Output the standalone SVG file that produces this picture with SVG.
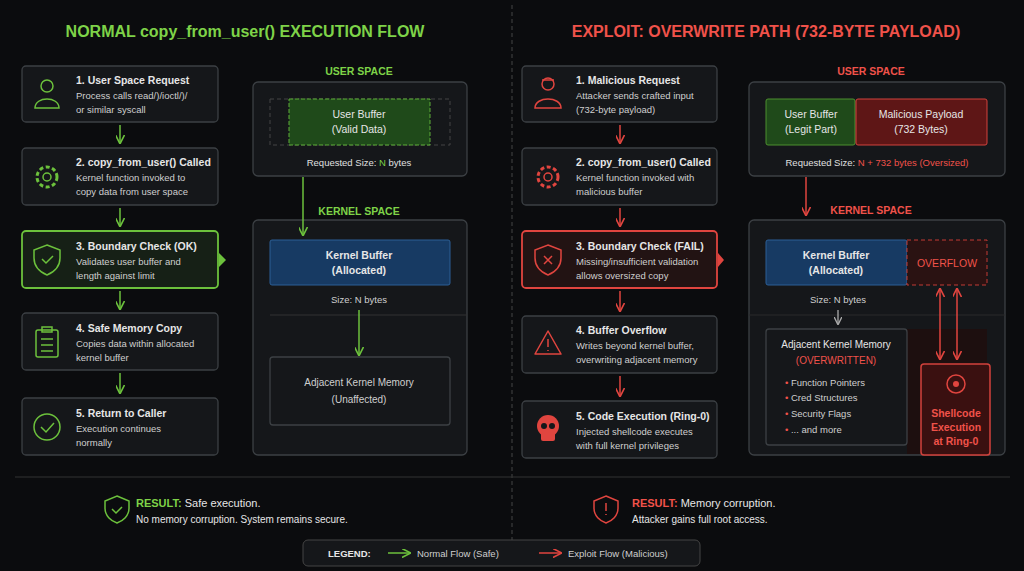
<svg xmlns="http://www.w3.org/2000/svg" width="1024" height="571" viewBox="0 0 1024 571">
<defs>
<style>
text{font-family:"Liberation Sans",Arial,sans-serif;fill:#e6e6e6}
.t{font-size:16px;font-weight:bold}
.h{font-size:10.5px;font-weight:bold}
.b{font-size:9.5px;fill:#cfcfcf}
.c{text-anchor:middle}
.box{fill:#15171a;stroke:#3c4044;stroke-width:1.3}
.g{fill:#7ed348}.r{fill:#f0524a}
.gl{stroke:#6cc13c;stroke-width:1.5;fill:none}
.rl{stroke:#e0453f;stroke-width:1.5;fill:none}
</style>
<marker id="ag" viewBox="0 0 10 10" refX="9" refY="5" markerWidth="6" markerHeight="6" orient="auto-start-reverse"><path d="M0,0L10,5L0,10" fill="none" stroke="#6cc13c" stroke-width="1.8"/></marker>
<marker id="ar" viewBox="0 0 10 10" refX="9" refY="5" markerWidth="6" markerHeight="6" orient="auto-start-reverse"><path d="M0,0L10,5L0,10" fill="none" stroke="#e0453f" stroke-width="1.8"/></marker>
<marker id="aw" viewBox="0 0 10 10" refX="9" refY="5" markerWidth="6" markerHeight="6" orient="auto"><path d="M0,0L10,5L0,10" fill="none" stroke="#aaa" stroke-width="1.8"/></marker>
</defs>
<rect width="1024" height="571" fill="#0b0c0e"/>
<line x1="512" y1="5" x2="512" y2="540" stroke="#444" stroke-dasharray="4 3"/>
<line x1="15" y1="477" x2="1010" y2="477" stroke="#333"/>
<text class="t c g" x="245" y="37" style="fill:#7ed348">NORMAL copy_from_user() EXECUTION FLOW</text>
<text class="t c" x="766" y="37" style="fill:#f0524a">EXPLOIT: OVERWRITE PATH (732-BYTE PAYLOAD)</text>

<g id="l1"><rect class="box" x="22" y="66" width="196" height="56" rx="4"/><circle cx="47" cy="86" r="6" class="gl"/><path d="M35,108c0-12 24-12 24,0z" class="gl"/><text class="h" x="76" y="84">1. User Space Request</text><text class="b" x="76" y="99">Process calls read/)/ioctl/)/</text><text class="b" x="76" y="113">or similar syscall</text></g>
<g id="l2"><rect class="box" x="22" y="148" width="196" height="57" rx="4"/><circle cx="47" cy="177" r="10" stroke-dasharray="4 2.5" style="stroke:#6cc13c;stroke-width:3;fill:none"/><circle cx="47" cy="177" r="4" class="gl"/><text class="h" x="76" y="166">2. copy_from_user() Called</text><text class="b" x="76" y="181">Kernel function invoked to</text><text class="b" x="76" y="195">copy data from user space</text></g>
<g id="l3"><rect x="22" y="231" width="196" height="57" rx="4" fill="#162016" stroke="#6cc13c" stroke-width="1.8"/><path d="M219,253l7,7l-7,7z" fill="#6cc13c"/><path d="M47,245l13,5v8c0,9-6,14-13,17c-7-3-13-8-13-17v-8z" class="gl"/><path d="M42,259l4,4l7-7" class="gl"/><text class="h" x="76" y="250">3. Boundary Check (OK)</text><text class="b" x="76" y="265">Validates user buffer and</text><text class="b" x="76" y="279">length against limit</text></g>
<g id="l4"><rect class="box" x="22" y="313" width="196" height="57" rx="4"/><rect x="36" y="330" width="22" height="27" rx="2" class="gl"/><rect x="42" y="327" width="10" height="5" class="gl"/><path d="M41,339h12M41,345h12M41,351h12" class="gl"/><text class="h" x="76" y="332">4. Safe Memory Copy</text><text class="b" x="76" y="347">Copies data within allocated</text><text class="b" x="76" y="361">kernel buffer</text></g>
<g id="l5"><rect class="box" x="22" y="398" width="196" height="57" rx="4"/><circle cx="47" cy="427" r="13" class="gl"/><path d="M41,427l5,5l8-9" class="gl"/><text class="h" x="76" y="417">5. Return to Caller</text><text class="b" x="76" y="432">Execution continues</text><text class="b" x="76" y="446">normally</text></g>

<g id="lus"><text class="h c" x="359" y="75" style="fill:#7ed348">USER SPACE</text><rect class="box" x="253" y="82" width="214" height="94" rx="5"/><rect x="270" y="99" width="180" height="46" fill="none" stroke="#444" stroke-dasharray="4 3"/><rect x="289" y="99" width="141" height="46" fill="#1f4a1a" stroke="#5fae38" stroke-dasharray="4 2"/><text class="h c" x="359" y="118" style="font-weight:normal">User Buffer</text><text class="h c" x="359" y="133" style="font-weight:normal">(Valid Data)</text><text class="b c" x="359" y="166" style="fill:#e0e0e0">Requested Size: <tspan style="fill:#7ed348">N</tspan> bytes</text></g>
<g id="lks"><text class="h c" x="359" y="215" style="fill:#7ed348">KERNEL SPACE</text><rect class="box" x="253" y="220" width="214" height="235" rx="5"/><rect x="270" y="240" width="180" height="45" rx="2" fill="#173a63" stroke="#2c5f96"/><text class="h c" x="359" y="259">Kernel Buffer</text><text class="h c" x="359" y="274">(Allocated)</text><text class="b c" x="359" y="303">Size: N bytes</text><line x1="270" y1="315" x2="467" y2="315" stroke="#333"/><rect class="box" x="270" y="357" width="180" height="68" rx="3"/><text class="b c" x="359" y="386" style="font-size:10px">Adjacent Kernel Memory</text><text class="b c" x="359" y="403" style="font-size:10px">(Unaffected)</text></g>

<g id="r1"><rect class="box" x="522" y="66" width="195" height="56" rx="4"/><circle cx="548" cy="84" r="6" class="rl"/><path d="M542,80h12" class="rl"/><path d="M535,108c0-12 26-12 26,0z" class="rl"/><text class="h" x="576" y="84">1. Malicious Request</text><text class="b" x="576" y="99">Attacker sends crafted input</text><text class="b" x="576" y="113">(732-byte payload)</text></g>
<g id="r2"><rect class="box" x="522" y="148" width="195" height="57" rx="4"/><circle cx="548" cy="177" r="10" stroke-dasharray="4 2.5" style="stroke:#e0453f;stroke-width:3;fill:none"/><circle cx="548" cy="177" r="4" class="rl"/><text class="h" x="576" y="166">2. copy_from_user() Called</text><text class="b" x="576" y="181">Kernel function invoked with</text><text class="b" x="576" y="195">malicious buffer</text></g>
<g id="r3"><rect x="522" y="231" width="195" height="57" rx="4" fill="#221313" stroke="#e0453f" stroke-width="1.8"/><path d="M718,253l6,7l-6,7z" fill="#e0453f"/><path d="M548,245l13,5v8c0,9-6,14-13,17c-7-3-13-8-13-17v-8z" class="rl"/><path d="M544,256l8,8M552,256l-8,8" class="rl"/><text class="h" x="576" y="250">3. Boundary Check (FAIL)</text><text class="b" x="576" y="265">Missing/insufficient validation</text><text class="b" x="576" y="279">allows oversized copy</text></g>
<g id="r4"><rect class="box" x="522" y="316" width="195" height="57" rx="4"/><path d="M548,331l13,23h-26z" class="rl" stroke-linejoin="round"/><path d="M548,339v8M548,350v1" class="rl"/><text class="h" x="576" y="334">4. Buffer Overflow</text><text class="b" x="576" y="349">Writes beyond kernel buffer,</text><text class="b" x="576" y="363">overwriting adjacent memory</text></g>
<g id="r5"><rect class="box" x="522" y="401" width="195" height="57" rx="4"/><circle cx="548" cy="426" r="11" fill="#e0453f"/><rect x="541" y="432" width="14" height="9" rx="2" fill="#e0453f"/><circle cx="544" cy="426" r="3" fill="#15171a"/><circle cx="552" cy="426" r="3" fill="#15171a"/><text class="h" x="576" y="420">5. Code Execution (Ring-0)</text><text class="b" x="576" y="435">Injected shellcode executes</text><text class="b" x="576" y="449">with full kernel privileges</text></g>

<g id="rus"><text class="h c" x="871" y="75" style="fill:#f0524a">USER SPACE</text><rect class="box" x="749" y="82" width="256" height="94" rx="5"/><rect x="766" y="99" width="89" height="46" rx="2" fill="#1f4a1a" stroke="#4d8f2e"/><rect x="856" y="99" width="131" height="46" rx="2" fill="#5e1616" stroke="#d2423c"/><text class="h c" x="811" y="118" style="font-weight:normal">User Buffer</text><text class="h c" x="811" y="133" style="font-weight:normal">(Legit Part)</text><text class="h c" x="921" y="118" style="font-weight:normal">Malicious Payload</text><text class="h c" x="921" y="133" style="font-weight:normal">(732 Bytes)</text><text class="b c" x="877" y="166" style="fill:#e0e0e0">Requested Size: <tspan style="fill:#f0524a">N + 732 bytes (Oversized)</tspan></text></g>
<g id="rks"><text class="h c" x="871" y="214" style="fill:#f0524a">KERNEL SPACE</text><rect class="box" x="749" y="220" width="256" height="235" rx="5"/><rect x="766" y="240" width="141" height="45" rx="2" fill="#173a63" stroke="#2c5f96"/><text class="h c" x="836" y="259">Kernel Buffer</text><text class="h c" x="836" y="274">(Allocated)</text><rect x="907" y="240" width="80" height="45" fill="#2a1212" stroke="#c23a35" stroke-dasharray="4 3"/><text class="h c" x="947" y="267" style="fill:#f0524a;font-weight:normal">OVERFLOW</text><text class="b c" x="838" y="303">Size: N bytes</text><line x1="749" y1="315" x2="1005" y2="315" stroke="#2a2a2a"/><rect x="907" y="329" width="80" height="125" fill="#1d0f0f"/><rect class="box" x="766" y="329" width="141" height="116" rx="3"/><text class="b c" x="836" y="348" style="font-size:10px;fill:#e6e6e6">Adjacent Kernel Memory</text><text class="b c" x="836" y="364" style="font-size:10px;fill:#f0524a">(OVERWRITTEN)</text><g style="font-size:9.5px"><text class="b" x="785" y="386"><tspan style="fill:#f0524a">•</tspan>  Function Pointers</text><text class="b" x="785" y="401"><tspan style="fill:#f0524a">•</tspan>  Cred Structures</text><text class="b" x="785" y="417"><tspan style="fill:#f0524a">•</tspan>  Security Flags</text><text class="b" x="785" y="433"><tspan style="fill:#f0524a">•</tspan>  ... and more</text></g><rect x="921" y="364" width="69" height="91" rx="3" fill="#3a1010" stroke="#d2423c" stroke-width="1.5"/><circle cx="956" cy="384" r="9" class="rl" stroke-width="3"/><circle cx="956" cy="384" r="3" fill="#e0453f"/><text class="h c r" x="956" y="417" style="fill:#f0524a">Shellcode</text><text class="h c r" x="956" y="431" style="fill:#f0524a">Execution</text><text class="h c r" x="956" y="445" style="fill:#f0524a">at Ring-0</text></g>

<g id="connectors">
<path d="M120,125v18" class="gl" marker-end="url(#ag)"/>
<path d="M120,208v18" class="gl" marker-end="url(#ag)"/>
<path d="M120,291v18" class="gl" marker-end="url(#ag)"/>
<path d="M120,373v20" class="gl" marker-end="url(#ag)"/>
<path d="M303,177v58" class="gl" marker-end="url(#ag)"/>
<path d="M359,310v45" class="gl" marker-end="url(#ag)"/>
<path d="M620,125v18" class="rl" marker-end="url(#ar)"/>
<path d="M620,208v18" class="rl" marker-end="url(#ar)"/>
<path d="M620,291v20" class="rl" marker-end="url(#ar)"/>
<path d="M620,376v20" class="rl" marker-end="url(#ar)"/>
<path d="M806,177v38" class="rl" marker-end="url(#ar)"/>
<path d="M838,310v14" stroke="#aaa" stroke-width="1.3" marker-end="url(#aw)"/>
<path d="M940,289v70" class="rl" marker-start="url(#ar)" marker-end="url(#ar)"/>
<path d="M957,289v70" class="rl" marker-start="url(#ar)" marker-end="url(#ar)"/>
</g>

<g id="resl"><path d="M117,496l12,5v7c0,8-6,13-12,15c-6-2-12-7-12-15v-7z" class="gl"/><path d="M112,509l4,4l6-6" class="gl"/><text x="136" y="507" style="font-size:11px"><tspan style="fill:#7ed348;font-weight:bold">RESULT:</tspan> Safe execution.</text><text x="136" y="523" style="font-size:10px">No memory corruption. System remains secure.</text></g>
<g id="resr"><path d="M606,496l12,5v7c0,8-6,13-12,15c-6-2-12-7-12-15v-7z" class="rl"/><path d="M606,503v8M606,514v1" class="rl"/><text x="632" y="507" style="font-size:11px"><tspan style="fill:#f0524a;font-weight:bold">RESULT:</tspan> Memory corruption.</text><text x="632" y="523" style="font-size:10px">Attacker gains full root access.</text></g>
<g id="legend"><rect x="303" y="540" width="397" height="26" rx="5" fill="#15171a" stroke="#444"/><text x="328" y="557" style="font-size:9.5px;font-weight:bold">LEGEND:</text><path d="M388,553h22" class="gl" marker-end="url(#ag)"/><text x="417" y="557" class="b">Normal Flow (Safe)</text><path d="M539,553h22" class="rl" marker-end="url(#ar)"/><text x="568" y="557" class="b">Exploit Flow (Malicious)</text></g>
</svg>
